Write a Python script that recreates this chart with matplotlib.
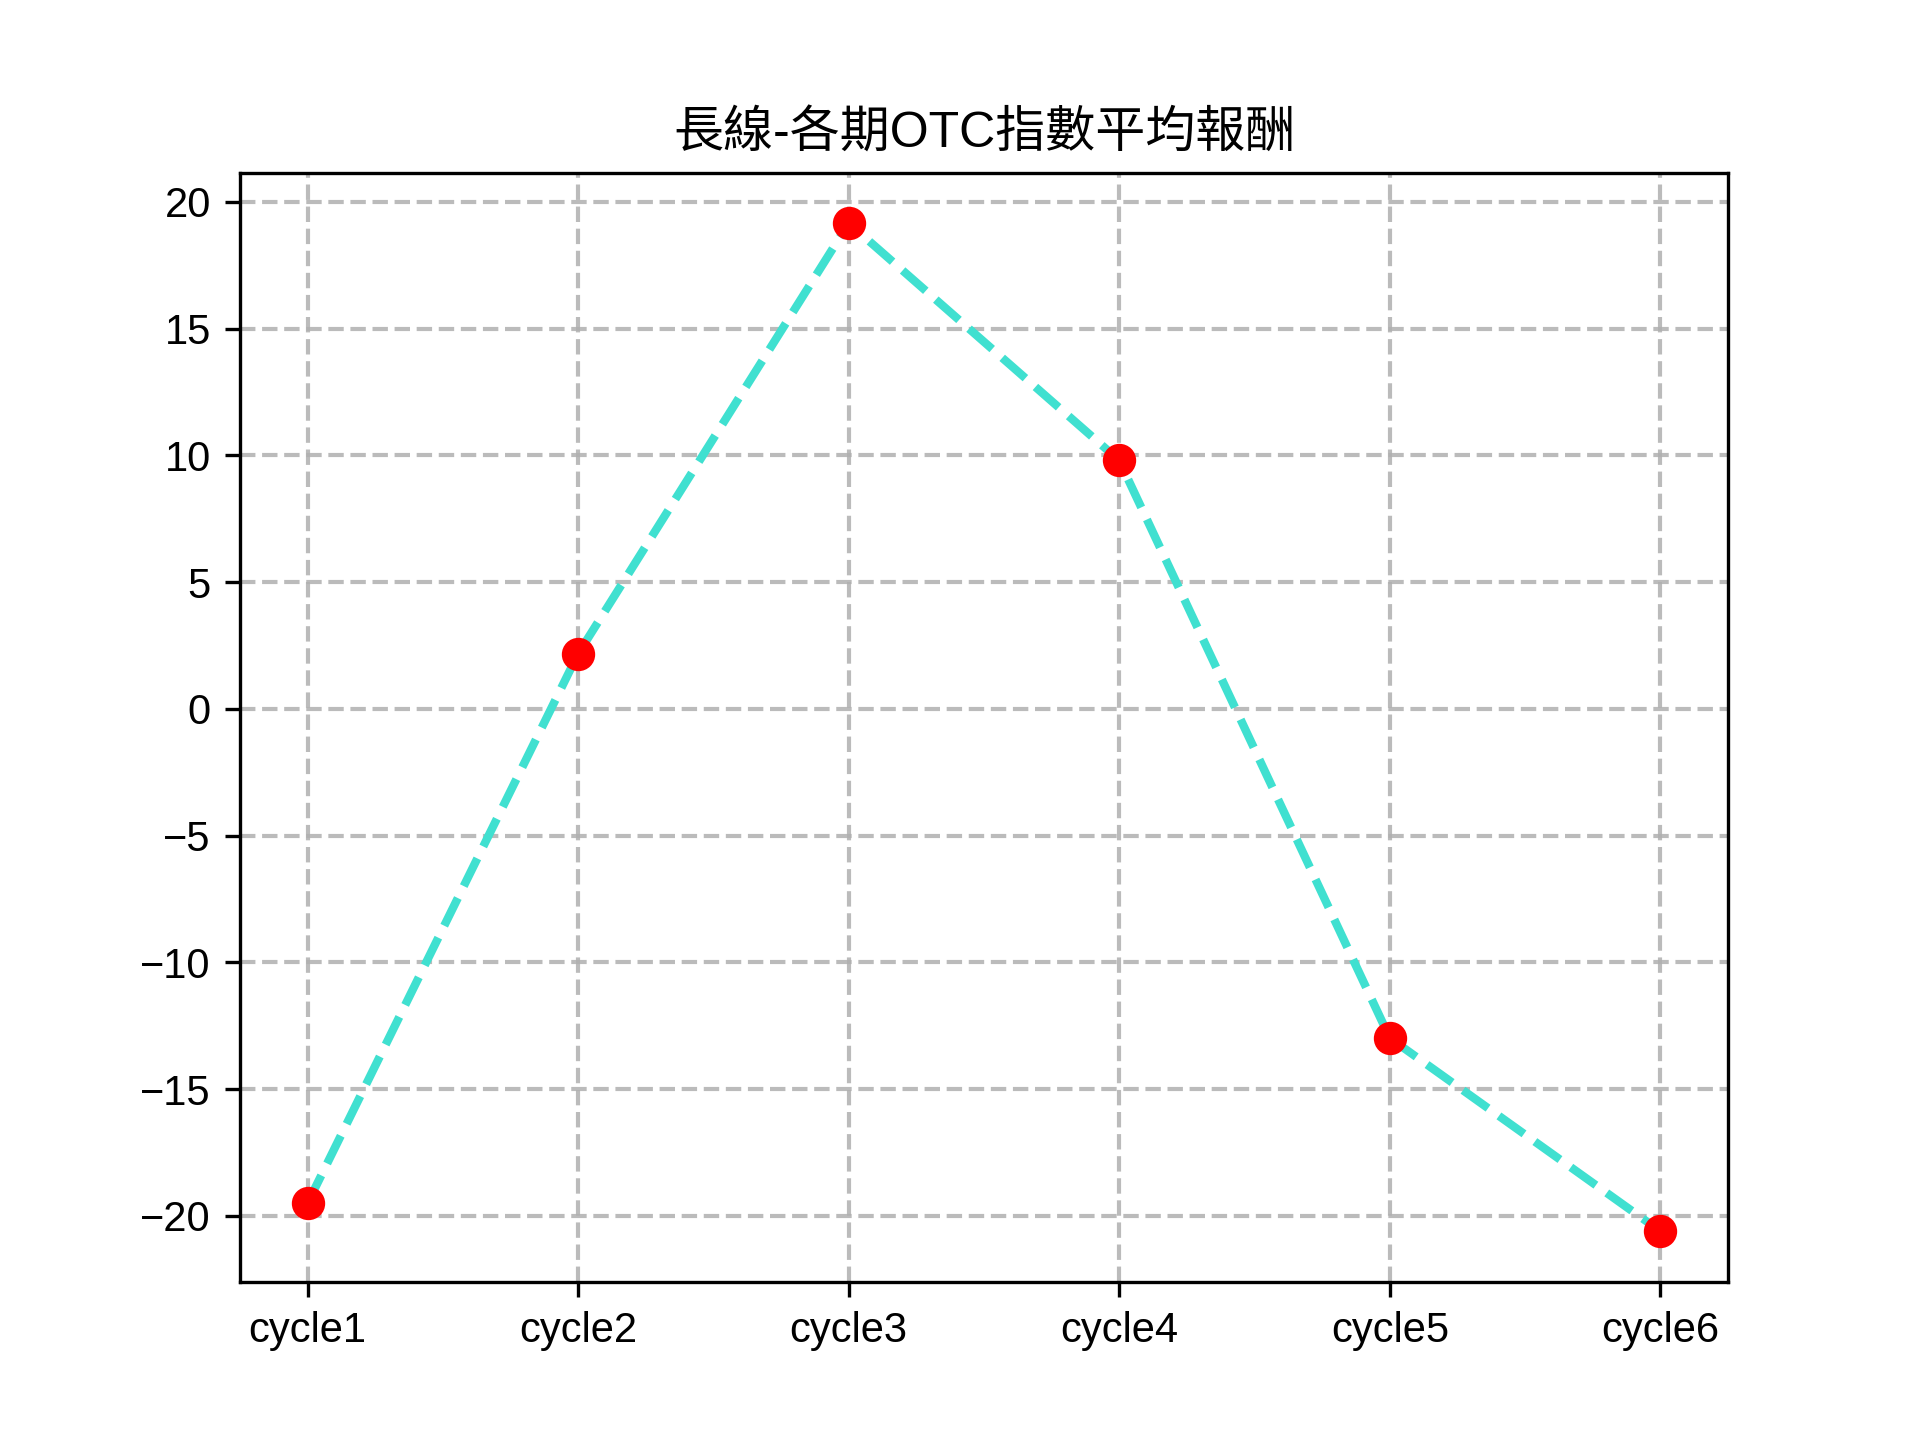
import matplotlib
matplotlib.use("Agg")
import matplotlib.pyplot as plt

plt.rcParams['font.family'] = ['Liberation Sans', 'Noto Sans CJK TC', 'DejaVu Sans']
plt.rcParams['axes.unicode_minus'] = True

categories = ['cycle1', 'cycle2', 'cycle3', 'cycle4', 'cycle5', 'cycle6']
returns = [-19.49, 2.18, 19.16, 9.80, -12.98, -20.60]
title = '長線-各期OTC指數平均報酬'

fig, ax = plt.subplots(figsize=(6.4, 4.8), dpi=300)
ax.plot(categories, returns, linestyle='--', color='turquoise', linewidth=2, zorder=2)
ax.plot(categories, returns, 'o', color='red', markersize=7, zorder=3)
ax.grid(True, linestyle='--', linewidth=1, color='#b0b0b0', alpha=0.85)
ax.set_axisbelow(True)
ax.set_title(title)
fig.savefig('out.png', dpi=300)
